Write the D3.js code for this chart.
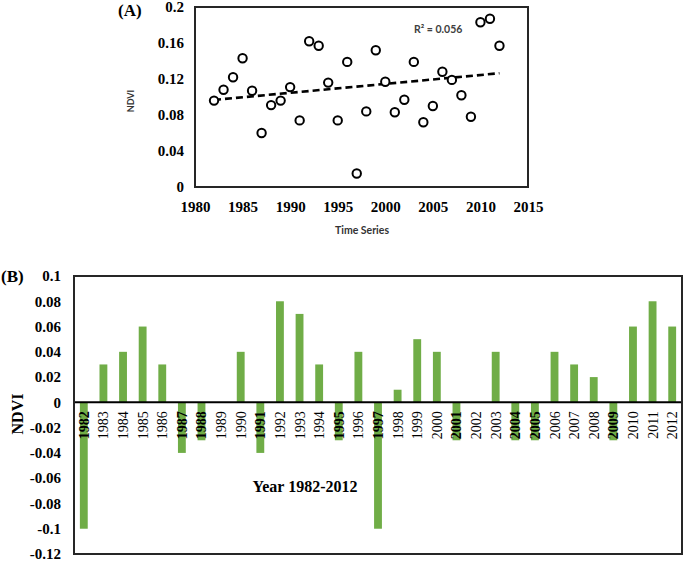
<!DOCTYPE html>
<html>
<head>
<meta charset="utf-8">
<script src="https://cdn.jsdelivr.net/npm/d3@7"></script>
<style>
  body { margin: 0; background: #fff; }
  svg { display: block; }
</style>
</head>
<body>
<div id="chart"></div>
<script>
// NDVI series (A) and anomaly values (B)
var years = [1982, 1983, 1984, 1985, 1986, 1987, 1988, 1989, 1990, 1991,
             1992, 1993, 1994, 1995, 1996, 1997, 1998, 1999, 2000, 2001,
             2002, 2003, 2004, 2005, 2006, 2007, 2008, 2009, 2010, 2011, 2012];
var ndvi = [0.096, 0.108, 0.122, 0.143, 0.107, 0.060, 0.091, 0.096, 0.111, 0.074,
            0.162, 0.157, 0.116, 0.074, 0.139, 0.015, 0.084, 0.152, 0.117, 0.083,
            0.097, 0.139, 0.072, 0.090, 0.128, 0.119, 0.102, 0.078, 0.183, 0.187, 0.157];
var anomaly = [-0.10, 0.03, 0.04, 0.06, 0.03, -0.04, -0.03, 0, 0.04, -0.04,
               0.08, 0.07, 0.03, -0.03, 0.04, -0.10, 0.01, 0.05, 0.04, -0.03,
               0, 0.04, -0.03, -0.03, 0.04, 0.03, 0.02, -0.03, 0.06, 0.08, 0.06];
var xTicksA = [1980, 1985, 1990, 1995, 2000, 2005, 2010, 2015];
var yTicksA = [0, 0.04, 0.08, 0.12, 0.16, 0.2];
var yTicksB = [0.1, 0.08, 0.06, 0.04, 0.02, 0, -0.02, -0.04, -0.06, -0.08, -0.1, -0.12];
var r2Label = "R\u00b2 = 0.056";

var serif = "'Liberation Serif', 'Times New Roman', serif";
var sans = "Lato, 'Open Sans', sans-serif";
var fmt = function(d) { return String(+d.toFixed(2)); };

var svg = d3.select("#chart").append("svg")
    .attr("width", 685)
    .attr("height", 561);

var xA = d3.scaleLinear().domain([1980, 2015]).range([195, 528]);
var yA = d3.scaleLinear().domain([0, 0.2]).range([187, 7]);
var xB = d3.scaleBand().domain(years).range([74, 682]).paddingInner(0.6).paddingOuter(0.3);
var yB = d3.scaleLinear().domain([-0.12, 0.1]).range([554, 276]);

function styleAxis(a) {
  a.select(".domain").remove();
  a.selectAll("text")
      .attr("font-family", serif).attr("font-weight", "bold")
      .attr("font-size", 15).attr("fill", "#000");
}

// ---------- (A) scatter with trend ----------
var gA = svg.append("g");

gA.append("g")
    .attr("transform", "translate(0," + yA(0) + ")")
    .call(d3.axisBottom(xA).tickValues(xTicksA).tickSize(0).tickPadding(14).tickFormat(d3.format("d")))
    .call(styleAxis);
gA.append("g")
    .attr("transform", "translate(" + xA(1980) + ",0)")
    .call(d3.axisLeft(yA).tickValues(yTicksA).tickSize(0).tickPadding(11).tickFormat(fmt))
    .call(styleAxis);

// trend line (least squares, like the spreadsheet trendline)
var mx = d3.mean(years), my = d3.mean(ndvi);
var slope = d3.sum(years, function(d, i) { return (d - mx) * (ndvi[i] - my); }) /
            d3.sum(years, function(d) { return (d - mx) * (d - mx); });
var icpt = my - slope * mx;
var trendYears = [years[0], years[years.length - 1]];
gA.append("path")
    .datum(trendYears)
    .attr("d", d3.line().x(function(d) { return xA(d); }).y(function(d) { return yA(icpt + slope * d); }))
    .attr("stroke", "#000").attr("stroke-width", 2.6)
    .attr("stroke-dasharray", "7,4").attr("fill", "none");

gA.selectAll(".pt")
    .data(years)
    .enter()
    .append("circle")
    .attr("class", "pt")
    .attr("cx", function(d) { return xA(d); })
    .attr("cy", function(d, i) { return yA(ndvi[i]); })
    .attr("r", 4.2)
    .attr("fill", "#fff").attr("stroke", "#000").attr("stroke-width", 2);

gA.append("text")
    .attr("x", 414).attr("y", 33)
    .attr("font-family", sans).attr("font-size", 10.5).attr("font-weight", "bold")
    .attr("fill", "#404040")
    .text(r2Label);

gA.append("text")
    .attr("x", 362).attr("y", 234)
    .attr("text-anchor", "middle")
    .attr("font-family", sans).attr("font-size", 10.5).attr("font-weight", "bold")
    .attr("fill", "#333")
    .text("Time Series");

gA.append("text")
    .attr("transform", "translate(134,101) rotate(-90)")
    .attr("text-anchor", "middle")
    .attr("font-family", sans).attr("font-size", 9).attr("font-weight", "bold")
    .attr("fill", "#333")
    .text("NDVI");

gA.append("text")
    .attr("x", 118).attr("y", 16)
    .attr("font-family", serif).attr("font-weight", "bold").attr("font-size", 17)
    .text("(A)");

// ---------- (B) anomaly bars ----------
var gB = svg.append("g");

gB.selectAll(".bar")
    .data(years)
    .enter()
    .append("rect")
    .attr("class", "bar")
    .attr("x", function(d) { return xB(d); })
    .attr("width", xB.bandwidth())
    .attr("y", function(d, i) { return yB(Math.max(0, anomaly[i])); })
    .attr("height", function(d, i) { return Math.abs(yB(anomaly[i]) - yB(0)); })
    .attr("fill", "#70ad47");

gB.append("line")
    .attr("x1", xB.range()[0]).attr("x2", xB.range()[1])
    .attr("y1", yB(0)).attr("y2", yB(0))
    .attr("stroke", "#000").attr("stroke-width", 2);

gB.append("g")
    .attr("transform", "translate(" + xB.range()[0] + ",0)")
    .call(d3.axisLeft(yB).tickValues(yTicksB).tickSize(0).tickPadding(13).tickFormat(fmt))
    .call(styleAxis);

// year labels along the zero line
gB.selectAll(".yr")
    .data(years)
    .enter()
    .append("text")
    .attr("class", "yr")
    .attr("transform", function(d) {
      return "translate(" + (xB(d) + xB.bandwidth() / 2 + 5) + "," + (yB(0) + 9) + ") rotate(-90)";
    })
    .attr("text-anchor", "end")
    .attr("font-family", serif).attr("font-size", 14)
    .attr("font-weight", function(d, i) { return anomaly[i] < 0 ? "bold" : "normal"; })
    .text(function(d) { return d; });

gB.append("text")
    .attr("x", 305).attr("y", 492)
    .attr("text-anchor", "middle")
    .attr("font-family", serif).attr("font-weight", "bold").attr("font-size", 16)
    .text("Year 1982-2012");

gB.append("text")
    .attr("transform", "translate(23,414) rotate(-90)")
    .attr("text-anchor", "middle")
    .attr("font-family", serif).attr("font-weight", "bold").attr("font-size", 16)
    .text("NDVI");

gB.append("text")
    .attr("x", 1).attr("y", 282)
    .attr("font-family", serif).attr("font-weight", "bold").attr("font-size", 17)
    .text("(B)");

// plot boxes, one per panel, on top of everything
var boxes = [[xA, yA], [xB, yB]];
svg.selectAll(".box")
    .data(boxes)
    .enter()
    .append("rect")
    .attr("class", "box")
    .attr("x", function(d) { return d[0].range()[0]; })
    .attr("y", function(d) { return d[1].range()[1]; })
    .attr("width", function(d) { return d[0].range()[1] - d[0].range()[0]; })
    .attr("height", function(d) { return d[1].range()[0] - d[1].range()[1]; })
    .style("fill", "none")
    .style("stroke", "#262626")
    .style("stroke-width", "2.5px")
    .attr("shape-rendering", "crispEdges");
</script>
</body>
</html>
